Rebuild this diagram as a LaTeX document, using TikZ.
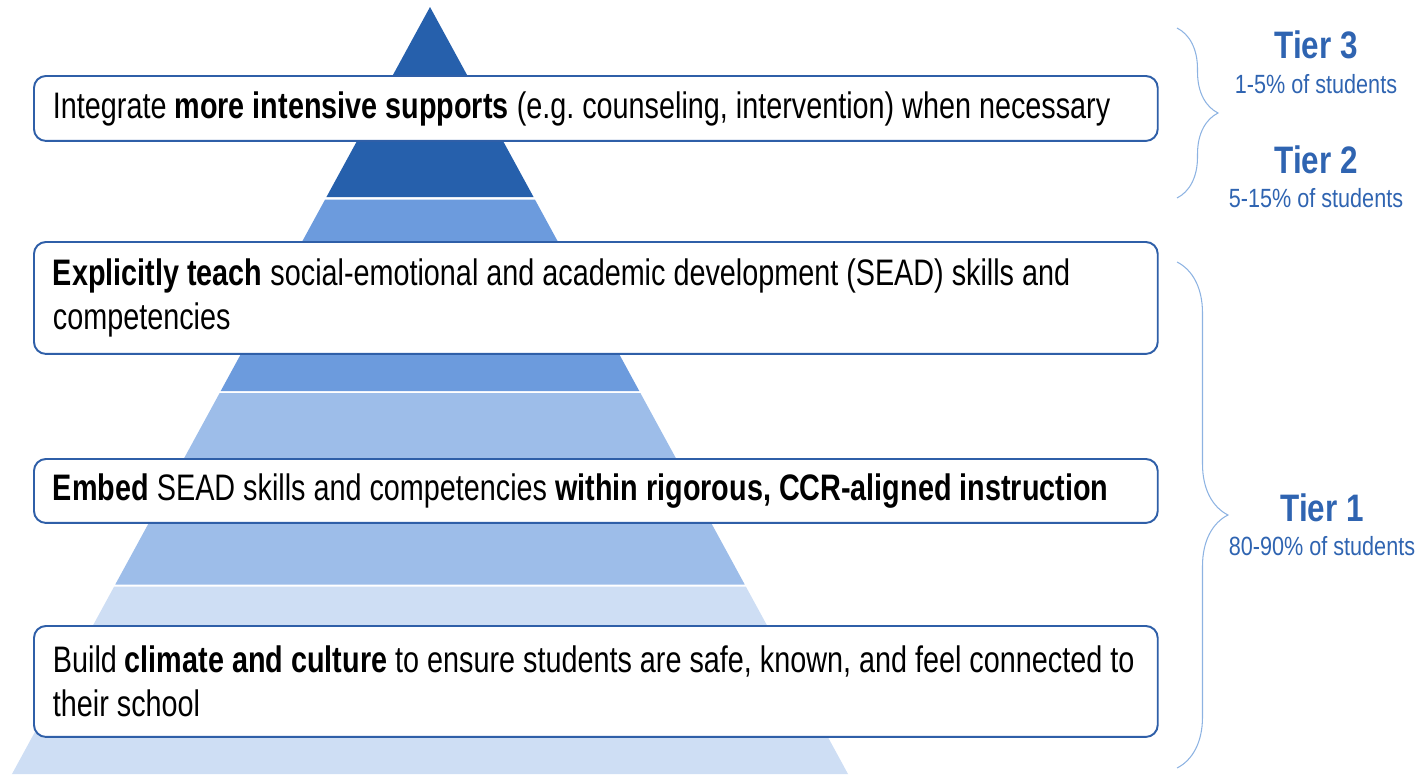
\documentclass[tikz,border=0pt]{standalone}
\usepackage{fontspec}
\setmainfont{Liberation Sans}[FakeStretch=0.78]
\newfontfamily\tierfont{Liberation Sans}[FakeStretch=0.82]
\usepackage{xcolor}
\usetikzlibrary{decorations.pathreplacing,positioning}
\definecolor{mtDark}{HTML}{2660AC}
\definecolor{mtMid}{HTML}{6C9BDD}
\definecolor{mtLight}{HTML}{9DBDE9}
\definecolor{mtPale}{HTML}{CEDEF4}
\definecolor{mtBorder}{HTML}{2F5FA8}
\definecolor{mtBrace}{HTML}{8DB3E2}
\definecolor{mtTier}{HTML}{2F64B1}
\tikzset{
  stepbox/.style={rectangle,rounded corners=0.24cm,anchor=north west,
    minimum width=22.48cm,text width=21.72cm,inner xsep=0.38cm,
    align=flush left,draw=mtBorder,line width=1.1pt,fill=white,
    font=\fontsize{21}{25}\selectfont\frenchspacing,text=black},
  tiername/.style={anchor=base,font=\tierfont\bfseries\fontsize{21.8}{24}\selectfont,
    text=mtTier},
  tiershare/.style={anchor=base,font=\tierfont\fontsize{15}{17}\selectfont,
    text=mtTier},
  tierbrace/.style={draw=mtBrace,line width=0.6pt,decorate,
    decoration={brace,amplitude=#1}},
}
% one band of the pyramid, from y=#1 down to y=#2 (pixels)
\newcommand{\pyrlayer}[3]{%
  \fill[#3] ({430-0.545*(#1-7)},#1) -- ({430+0.545*(#1-7)},#1)
    -- ({430+0.545*(#2-7)},#2) -- ({430-0.545*(#2-7)},#2) -- cycle;}

\begin{document}
\begin{tikzpicture}[x=0.02cm,y=-0.02cm]
  \useasboundingbox (0,0) rectangle (1416,774);

  % Pyramid bands (top to bottom)
  \pyrlayer{7}{197}{mtDark}
  \pyrlayer{199.5}{391}{mtMid}
  \pyrlayer{393}{584.5}{mtLight}
  \pyrlayer{586.5}{774}{mtPale}

  % Strategy boxes
  \node[stepbox,minimum height=1.3cm] (intensive) at (33,75)
    {Integrate \textbf{more intensive supports} (e.g. counseling,
     intervention) when necessary};
  \node[stepbox,minimum height=2.24cm] (teach) at (33,241)
    {\textbf{Explicitly teach} social-emotional and academic development
     (SEAD) skills and\\ competencies};
  \node[stepbox,minimum height=1.28cm] (embed) at (33,458)
    {\textbf{Embed} SEAD skills and competencies \textbf{within rigorous,
     CCR-aligned instruction}};
  \node[stepbox,minimum height=2.22cm] (climate) at (33,625)
    {Build \textbf{climate and culture} to ensure students are safe, known,
     and feel connected to\\ their school};

  % Braces
  \coordinate (upperTop) at (1177,28);
  \coordinate (upperBot) at (1177,198);
  \coordinate (lowerTop) at (1177,262);
  \coordinate (lowerBot) at (1177,768);
  \draw[tierbrace=0.82cm] (upperTop) -- (upperBot);
  \draw[tierbrace=1.02cm] (lowerTop) -- (lowerBot);

  % Tier labels
  \node[tiername] (tier3) at (1316,58) {Tier 3};
  \node[tiershare] (tier3pct) at (1316,93) {1-5\% of students};
  \node[tiername] (tier2) at (1316,173) {Tier 2};
  \node[tiershare] (tier2pct) at (1316,207) {5-15\% of students};
  \node[tiername] (tier1) at (1322,521) {Tier 1};
  \node[tiershare] (tier1pct) at (1322,555) {80-90\% of students};
\end{tikzpicture}
\end{document}
